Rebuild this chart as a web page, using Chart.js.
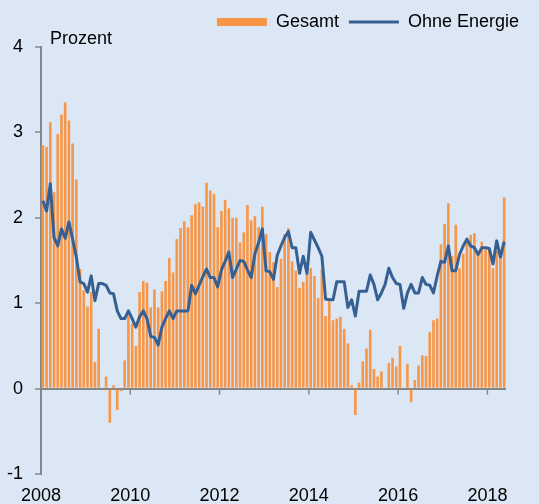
<!DOCTYPE html>
<html lang="de">
<head>
<meta charset="utf-8">
<title>Inflation</title>
<script src="https://cdn.jsdelivr.net/npm/chart.js@4.4.1/dist/chart.umd.min.js"></script>
<style>
  html, body { margin: 0; padding: 0; background: #dce7f5; }
</style>
</head>
<body>
<canvas id="myChart" width="539" height="504"></canvas>
<script>
const FIRST_YEAR = 2008
const YEAR_TICKS = [2008, 2010, 2012, 2014, 2016, 2018]
const Y_MIN = -1
const Y_MAX = 4
const LABEL_GESAMT = 'Gesamt'
const LABEL_OHNE = 'Ohne Energie'
const UNIT = 'Prozent'

// monthly values, Jan 2008 .. May 2018
const gesamt = [
  2.85, 2.83, 3.12, 2.30, 2.98, 3.21, 3.35, 3.14, 2.87, 2.45, 1.40, 1.15,
  0.96, 1.13, 0.31, 0.70, 0.00, 0.14, -0.40, 0.04, -0.25, -0.03, 0.33, 0.85,
  0.76, 0.50, 1.13, 1.26, 1.24, 0.95, 1.16, 0.95, 1.14, 1.26, 1.53, 1.36,
  1.75, 1.88, 1.96, 1.89, 2.03, 2.16, 2.18, 2.13, 2.41, 2.32, 2.28, 1.89,
  2.08, 2.21, 2.11, 2.00, 2.00, 1.71, 1.83, 2.15, 1.97, 2.02, 1.89, 2.13,
  1.81, 1.60, 1.48, 1.19, 1.52, 1.81, 1.88, 1.49, 1.38, 1.18, 1.25, 1.34,
  1.41, 1.32, 1.06, 1.40, 0.85, 1.02, 0.80, 0.82, 0.84, 0.70, 0.53, 0.04,
  -0.31, 0.07, 0.32, 0.47, 0.69, 0.23, 0.14, 0.20, 0.00, 0.30, 0.36, 0.26,
  0.50, 0.00, 0.29, -0.16, 0.10, 0.27, 0.39, 0.38, 0.66, 0.80, 0.82, 1.69,
  1.93, 2.17, 1.55, 1.92, 1.41, 1.58, 1.72, 1.80, 1.82, 1.61, 1.72, 1.63,
  1.64, 1.41, 1.61, 1.54, 2.24
]
const ohneEnergie = [
  2.20, 2.08, 2.40, 1.77, 1.67, 1.87, 1.76, 1.95, 1.75, 1.54, 1.25, 1.23,
  1.13, 1.32, 1.03, 1.23, 1.23, 1.21, 1.12, 1.11, 0.91, 0.82, 0.82, 0.91,
  0.82, 0.72, 0.84, 0.91, 0.82, 0.61, 0.60, 0.51, 0.72, 0.82, 0.91, 0.82,
  0.91, 0.91, 0.91, 0.91, 1.21, 1.11, 1.21, 1.31, 1.40, 1.30, 1.30, 1.19,
  1.39, 1.49, 1.60, 1.30, 1.40, 1.50, 1.49, 1.39, 1.30, 1.58, 1.71, 1.87,
  1.38, 1.37, 1.28, 1.56, 1.67, 1.77, 1.84, 1.65, 1.65, 1.35, 1.55, 1.35,
  1.83, 1.74, 1.65, 1.55, 1.05, 1.04, 1.04, 1.25, 1.25, 1.25, 0.95, 1.04,
  0.85, 1.14, 1.14, 1.14, 1.33, 1.22, 1.04, 1.12, 1.22, 1.41, 1.30, 1.23,
  1.22, 0.94, 1.12, 1.22, 1.12, 1.12, 1.30, 1.22, 1.21, 1.12, 1.32, 1.49,
  1.48, 1.67, 1.38, 1.38, 1.57, 1.67, 1.75, 1.67, 1.65, 1.57, 1.65, 1.65,
  1.64, 1.46, 1.73, 1.54, 1.72
]

const BG = '#dce7f5'
const ORANGE = '#f79646'
const BLUE = '#366092'
const AXIS = '#868686'
const FONT = '"Liberation Sans", Arial, sans-serif'
const LEGEND_LIFT = 6

// month i sits in the middle of its month on a decimal-year axis
function monthPos(i) {
  return FIRST_YEAR + (i + 0.5) / 12
}
function toPoints(values) {
  return values.map((v, i) => ({ x: monthPos(i), y: v }))
}

Chart.defaults.font.family = FONT
Chart.defaults.font.size = 18
Chart.defaults.color = '#000'

const bgPlugin = {
  id: 'bg',
  beforeDraw(chart) {
    const ctx = chart.ctx
    ctx.save()
    ctx.fillStyle = BG
    ctx.fillRect(0, 0, chart.width, chart.height)
    ctx.restore()
  }
}

const extrasPlugin = {
  id: 'extras',
  // pull the legend row a little closer to the top edge
  afterUpdate(chart) {
    const lg = chart.legend
    if (!lg) return
    lg.top -= LEGEND_LIFT
    lg.bottom -= LEGEND_LIFT
    ;(lg.legendHitBoxes || []).forEach(h => { h.top -= LEGEND_LIFT })
  },
  afterDraw(chart) {
    const { ctx, chartArea, scales } = chart
    const y0 = scales.y.getPixelForValue(0)
    ctx.save()
    ctx.strokeStyle = AXIS
    ctx.lineWidth = 1.5
    YEAR_TICKS.forEach(yr => {
      if (yr === FIRST_YEAR) return
      const x = scales.x.getPixelForValue(yr)
      ctx.beginPath()
      ctx.moveTo(x, y0)
      ctx.lineTo(x, y0 + 6)
      ctx.stroke()
    })
    ctx.fillStyle = '#000'
    ctx.font = '18px ' + FONT
    ctx.textBaseline = 'middle'
    ctx.textAlign = 'left'
    ctx.fillText(UNIT, chartArea.left + 9, chartArea.top - 8)
    ctx.restore()
  }
}

new Chart(document.getElementById('myChart'), {
  type: 'bar',
  data: {
    datasets: [
      {
        type: 'bar',
        label: LABEL_GESAMT,
        data: toPoints(gesamt),
        backgroundColor: ORANGE,
        borderWidth: 0,
        barPercentage: 0.7,
        categoryPercentage: 1,
        pointStyle: 'rect',
        order: 2
      },
      {
        type: 'line',
        label: LABEL_OHNE,
        data: toPoints(ohneEnergie),
        borderColor: BLUE,
        backgroundColor: BLUE,
        borderWidth: 3,
        borderJoinStyle: 'round',
        pointRadius: 0,
        pointStyle: 'line',
        tension: 0,
        order: 1
      }
    ]
  },
  options: {
    responsive: false,
    animation: false,
    devicePixelRatio: 1,
    layout: { padding: { top: 0, right: 10, left: 0, bottom: 0 } },
    plugins: {
      tooltip: { enabled: false },
      legend: {
        position: 'top',
        align: 'end',
        labels: {
          usePointStyle: true,
          pointStyleWidth: 50,
          boxHeight: 8,
          padding: 10,
          color: '#000',
          sort: (a, b) => a.datasetIndex - b.datasetIndex
        }
      }
    },
    scales: {
      x: {
        type: 'linear',
        offset: false,
        min: FIRST_YEAR,
        max: FIRST_YEAR + gesamt.length / 12,
        grid: { display: false, drawTicks: false, offset: false },
        border: { display: false },
        ticks: { padding: 11, maxRotation: 0, callback: v => String(v) },
        afterBuildTicks: s => { s.ticks = YEAR_TICKS.map(v => ({ value: v })) },
        afterFit: s => { s.height = 30; s.paddingRight = 33 }
      },
      y: {
        min: Y_MIN,
        max: Y_MAX,
        ticks: { stepSize: 1, padding: 12 },
        grid: {
          color: c => (c.tick && c.tick.value === 0 ? AXIS : 'transparent'),
          lineWidth: 2,
          tickColor: AXIS,
          tickLength: 6,
          tickWidth: 1.5
        },
        border: { color: AXIS, width: 2 },
        afterFit: s => { s.width = 41; s.paddingTop = 47 }
      }
    }
  },
  plugins: [bgPlugin, extrasPlugin]
})
</script>
</body>
</html>
